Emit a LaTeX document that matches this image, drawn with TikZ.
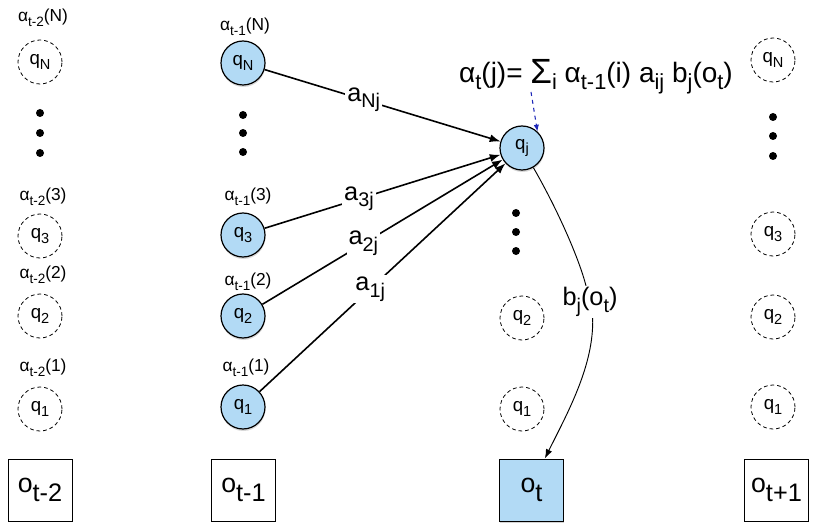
\documentclass[tikz,border=0pt]{standalone}
\usepackage{fontspec}
\setmainfont{Liberation Sans}
\usetikzlibrary{shadows,arrows.meta}
\definecolor{qblue}{RGB}{178,218,245}
\definecolor{arrblue}{RGB}{30,40,185}
\newcommand{\lo}[1]{\raisebox{-0.5ex}{\scalebox{0.78}{#1}}}
\newcommand{\lob}[1]{\raisebox{-0.6ex}{\scalebox{0.95}{#1}}}
\tikzset{
 hid/.style={circle, draw, dash pattern=on 2.8pt off 2.2pt, minimum size=33pt, inner sep=0pt, font=\fontsize{14}{16}\selectfont, line width=0.6pt},
 act/.style={circle, draw, fill=qblue, minimum size=33pt, inner sep=0pt, font=\fontsize{14}{16}\selectfont, line width=0.9pt, drop shadow={shadow xshift=0.3pt, shadow yshift=-1.5pt, opacity=0.3}},
 alab/.style={font=\fontsize{13}{15}\selectfont, inner sep=0pt},
 blob/.style={circle, fill=black, minimum size=6pt, inner sep=0pt},
 obs/.style={rectangle, draw, line width=0.7pt, minimum width=48pt, minimum height=46.5pt, font=\fontsize{20}{24}\selectfont, inner sep=0pt},
 trans/.style={-{Latex[length=8pt,width=6pt]}, line width=1.2pt},
 elab/.style={fill=white, inner sep=1.5pt, font=\fontsize{19}{22}\selectfont},
}
\begin{document}
\begin{tikzpicture}[x=0.75pt,y=-0.75pt]
\path[use as bounding box] (0,0) rectangle (834,527);
% column t-2
\node[alab] (a1N) at (43,18) {α\lo{t-2}(N)};
\node[hid] (c1N) at (40,62) {q\lo{N}};
\node[blob] (d11) at (40,113) {};
\node[blob] (d12) at (40,133) {};
\node[blob] (d13) at (40,153) {};
\node[alab] (a13) at (43,197) {α\lo{t-2}(3)};
\node[hid] (c13) at (40,236) {q\lo{3}};
\node[alab] (a12) at (43,275) {α\lo{t-2}(2)};
\node[hid] (c12) at (40,316) {q\lo{2}};
\node[alab] (a11) at (43,368) {α\lo{t-2}(1)};
\node[hid] (c11) at (40,409) {q\lo{1}};
\node[obs] (o1) at (40,490) {o\lob{t-2}};
% column t-1
\node[alab] (a2N) at (245,27) {α\lo{t-1}(N)};
\node[act] (qN) at (243,63) {q\lo{N}};
\node[blob] (d21) at (243,115) {};
\node[blob] (d22) at (243,133) {};
\node[blob] (d23) at (243,152) {};
\node[alab] (a23) at (248,197) {α\lo{t-1}(3)};
\node[act] (q3) at (243,235) {q\lo{3}};
\node[alab] (a22) at (248,282) {α\lo{t-1}(2)};
\node[act] (q2) at (243,316) {q\lo{2}};
\node[alab] (a21) at (246,368) {α\lo{t-1}(1)};
\node[act] (q1) at (243,407) {q\lo{1}};
\node[obs] (o2) at (243.5,490) {o\lob{t-1}};
% column t
\node[act] (qj) at (522,148) {q\lo{j}};
\node[blob] (d31) at (516,213) {};
\node[blob] (d32) at (516,232) {};
\node[blob] (d33) at (516,251) {};
\node[hid] (c32) at (522,318) {q\lo{2}};
\node[hid] (c31) at (522,409) {q\lo{1}};
\node[obs, fill=qblue, drop shadow={shadow xshift=0pt, shadow yshift=-1.8pt, opacity=0.35}] (ot) at (531.5,490) {o\lob{t}};
% column t+1
\node[hid] (c4N) at (773,60) {q\lo{N}};
\node[blob] (d41) at (773,117) {};
\node[blob] (d42) at (773,136) {};
\node[blob] (d43) at (773,156) {};
\node[hid] (c43) at (773,234) {q\lo{3}};
\node[hid] (c42) at (773,317) {q\lo{2}};
\node[hid] (c41) at (773,407) {q\lo{1}};
\node[obs] (o4) at (776.5,490) {o\lob{t+1}};
% formula
\node[inner sep=0pt, font=\fontsize{21}{25}\selectfont] (form) at (596,77)
  {α\lo{t}(j)= \raisebox{-0.1ex}{\scalebox{1.25}{Σ}}\lo{i} α\lo{t-1}(i) a\lo{ij} b\lo{j}(o\lo{t})};
\coordinate (fs) at (531,92);
\draw[arrblue, dashed, line width=0.8pt, -{Latex[length=5pt,width=4pt]}] (fs) -- (qj.47);
% transitions
\draw[trans] (qN) -- node[elab, pos=0.42] (lN) {a\lo{Nj}} (qj);
\draw[trans] (q3) -- node[elab, pos=0.40] (l3) {a\lo{3j}} (qj);
\draw[trans] (q2) -- node[elab, pos=0.42] (l2) {a\lo{2j}} (qj);
\draw[trans] (q1) -- node[elab, pos=0.45] (l1) {a\lo{1j}} (qj);
% emission
\node[inner sep=1pt, font=\fontsize{19}{22}\selectfont] (bj) at (590,302) {b\lo{j}(o\lo{t})};
\draw[line width=0.7pt] (qj) .. controls (555,205) and (578,255) .. ([xshift=-3pt]bj.north);
\draw[line width=0.7pt, -{Latex[length=7pt,width=5pt]}] ([xshift=2pt]bj.south) .. controls (594,365) and (568,412) .. ([xshift=10pt]ot.north);
\end{tikzpicture}
\end{document}
